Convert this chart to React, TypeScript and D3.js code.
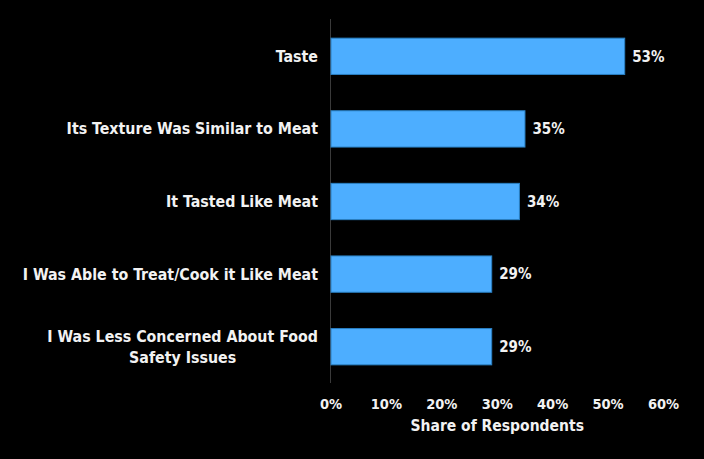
import React, { useEffect, useRef } from "react";
import * as d3 from "d3";

const categories: string[][] = [
  ["Taste"],
  ["Its Texture Was Similar to Meat"],
  ["It Tasted Like Meat"],
  ["I Was Able to Treat/Cook it Like Meat"],
  ["I Was Less Concerned About Food", "Safety Issues"],
];
const values: number[] = [53, 35, 34, 29, 29];
const tickValues: number[] = [0, 10, 20, 30, 40, 50, 60];
const axisTitle = "Share of Respondents";

const W = 704;
const H = 459;
const FONT = "'DejaVu Sans Condensed', 'DejaVu Sans', sans-serif";

export default function App() {
  const ref = useRef<SVGSVGElement>(null);
  useEffect(() => {
    document.body.style.margin = "0";
    document.body.style.background = "#000";
    const svg = d3.select(ref.current);
    svg.selectAll("*").remove();
    const x = d3.scaleLinear().domain([0, 60]).range([331, 663.5]);
    const y = d3
      .scaleBand<number>()
      .domain(d3.range(categories.length))
      .range([20, 383])
      .paddingInner(0.5)
      .paddingOuter(0.25);

    svg.append("rect").attr("width", W).attr("height", H).attr("fill", "#000");

    svg
      .append("line")
      .attr("x1", x(0) - 0.5)
      .attr("x2", x(0) - 0.5)
      .attr("y1", 19)
      .attr("y2", 383)
      .attr("stroke", "#3a3a3a")
      .attr("stroke-width", 1);

    svg
      .selectAll("rect.bar")
      .data(values)
      .enter()
      .append("rect")
      .attr("class", "bar")
      .attr("x", x(0))
      .attr("y", (_, i) => y(i)!)
      .attr("width", (d) => x(d) - x(0))
      .attr("height", y.bandwidth())
      .attr("fill", "#4daeff")
      .attr("stroke", "#2a80c4")
      .attr("stroke-width", 1);

    svg
      .selectAll("text.val")
      .data(values)
      .enter()
      .append("text")
      .attr("class", "val")
      .attr("x", (d) => x(d) + 7.5)
      .attr("y", (_, i) => y(i)! + y.bandwidth() / 2)
      .attr("dy", "0.35em")
      .attr("fill", "#f2f2f2")
      .attr("font-family", FONT)
      .attr("font-weight", "bold")
      .attr("font-size", 15)
      .text((d) => `${d}%`);

    const lineH = 21;
    categories.forEach((lines, i) => {
      const cy = y(i)! + y.bandwidth() / 2;
      const g = svg.append("g");
      const texts = lines.map((ln, k) =>
        g
          .append("text")
          .attr("y", cy + (k - (lines.length - 1) / 2) * lineH)
          .attr("dy", "0.35em")
          .attr("fill", "#f2f2f2")
          .attr("font-family", FONT)
          .attr("font-weight", "bold")
          .attr("font-size", 15.8)
          .attr("text-anchor", "middle")
          .text(ln)
      );
      const widths = texts.map((t) => (t.node() as SVGTextElement).getComputedTextLength());
      const maxW = Math.max(...widths);
      const center = 318 - maxW / 2;
      texts.forEach((t) => t.attr("x", center));
    });

    svg
      .selectAll("text.tick")
      .data(tickValues)
      .enter()
      .append("text")
      .attr("class", "tick")
      .attr("x", (d) => x(d))
      .attr("y", 404)
      .attr("dy", "0.35em")
      .attr("text-anchor", "middle")
      .attr("fill", "#f2f2f2")
      .attr("font-family", FONT)
      .attr("font-weight", "bold")
      .attr("font-size", 14.5)
      .text((d) => `${d}%`);

    svg
      .append("text")
      .attr("x", (x(0) + x(60)) / 2)
      .attr("y", 426)
      .attr("dy", "0.35em")
      .attr("text-anchor", "middle")
      .attr("fill", "#f2f2f2")
      .attr("font-family", FONT)
      .attr("font-weight", "bold")
      .attr("font-size", 15.5)
      .text(axisTitle);
  }, []);
  return <svg ref={ref} width={W} height={H} style={{ display: "block" }} />;
}
